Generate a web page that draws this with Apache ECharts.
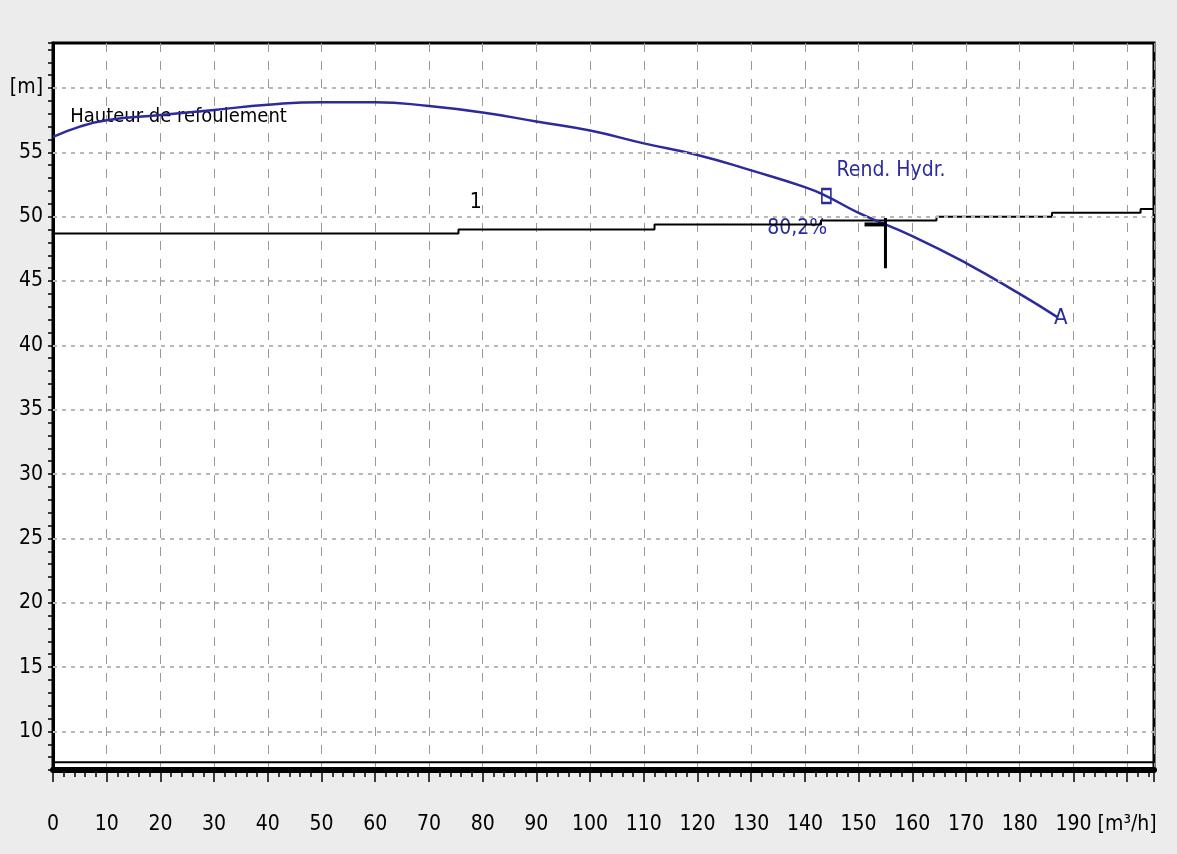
<!DOCTYPE html>
<html>
<head>
<meta charset="utf-8">
<script src="https://cdn.jsdelivr.net/npm/echarts@6/dist/echarts.min.js"></script>
<style>
  html, body { margin: 0; padding: 0; background: #ececec; }
  #chart { width: 1177px; height: 854px; }
</style>
</head>
<body>
<div id="chart"></div>
<script>
// courbe de la pompe (débit m3/h, hauteur m)
const debitPompe = [0, 5, 10, 20, 30, 40, 50, 60, 70, 80, 90, 100, 110, 120, 130, 140, 144, 150, 160, 170, 180, 187]
const hauteurPompe = [56.2, 57.0, 57.5, 57.9, 58.3, 58.7, 58.9, 58.9, 58.6, 58.1, 57.4, 56.7, 55.7, 54.8, 53.6, 52.3, 51.6, 50.3, 48.5, 46.4, 44.0, 42.2]

// courbe du réseau "1" (en escalier comme sur l'original)
const debitReseau = [0, 75.5, 112, 143, 164.5, 186, 202.5, 205]
const hauteurReseau = [48.7, 49.0, 49.4, 49.7, 50.0, 50.3, 50.6, 50.6]

// ligne basse le long de l'axe
const debitBas = [0, 205]
const hauteurBas = [7.6, 7.6]

// point de fonctionnement
const debitPoint = [155, 155]
const hauteurPoint = [49.9, 46.0]
const debitPalier = [151.1, 155.2]
const hauteurPalier = [49.4, 49.4]

// rendement au point carré
const rendPoint = [144, 51.6]

// textes
const notes = [
  [3.2, 57.75, 'Hauteur de refoulement', '#000000', 20],
  [77.6, 51.1, '1', '#000000', 21],
  [145.9, 53.6, 'Rend. Hydr.', '#2b2ba0', 21],
  [133.0, 49.1, '80,2%', '#2b2ba0', 21],
  [186.4, 42.1, 'A', '#2b2ba0', 22]
]

// graduations
const xMin = 0, xMax = 205, xStep = 10
const yMin = 7, yMax = 63.5
const yGrid = [10, 15, 20, 25, 30, 35, 40, 45, 50, 55, 60]

const FONT = "'Liberation Sans Narrow', 'DejaVu Sans Condensed', 'Arial Narrow', sans-serif"
const BLEU = '#2b2b9c'

const zip = (a, b) => a.map((v, i) => [v, b[i]])

const chart = echarts.init(document.getElementById('chart'))

const option = {
  backgroundColor: '#ececec',
  animation: false,
  grid: {
    left: 53, right: 23, top: 43, bottom: 84,
    show: true,
    backgroundColor: '#ffffff',
    borderColor: '#000000',
    borderWidth: 3
  },
  xAxis: {
    type: 'value',
    min: xMin, max: xMax, interval: xStep,
    axisLine: { lineStyle: { color: '#000', width: 6 } },
    axisTick: { length: 12, lineStyle: { color: '#000', width: 1.5 } },
    minorTick: { show: true, splitNumber: 5, length: 7, lineStyle: { color: '#000', width: 1.5 } },
    axisLabel: {
      margin: 44,
      fontFamily: FONT, fontSize: 21, color: '#000',
      formatter: v => (v % 10 !== 0 ? '' : (v === 200 ? '[m³/h]' : String(v)))
    },
    splitLine: { show: true, lineStyle: { color: '#999999', width: 1, type: [9, 9] } }
  },
  yAxis: {
    type: 'value',
    min: yMin, max: yMax, interval: 1,
    axisLine: { show: true, lineStyle: { color: '#000', width: 3 } },
    axisTick: { show: true, length: 5, lineStyle: { color: '#000', width: 1.5 } },
    axisLabel: {
      margin: 10,
      fontFamily: FONT, fontSize: 21, color: '#000',
      formatter: v => (v % 5 !== 0 ? '' : (v === 60 ? '[m]' : String(v)))
    },
    splitLine: { show: false }
  },
  series: [
    {
      // lignes horizontales pointillées
      type: 'line', data: [], silent: true,
      markLine: {
        silent: true, symbol: 'none', label: { show: false },
        lineStyle: { color: '#b8b8b8', width: 2, type: [4, 5] },
        data: yGrid.map(v => ({ yAxis: v }))
      }
    },
    {
      name: 'bas', type: 'line', data: zip(debitBas, hauteurBas),
      symbol: 'none', lineStyle: { color: '#000', width: 2 }, silent: true
    },
    {
      name: 'réseau 1', type: 'line', step: 'end', data: zip(debitReseau, hauteurReseau),
      symbol: 'none', lineStyle: { color: '#000', width: 2 }, silent: true
    },
    {
      name: 'Hauteur de refoulement', type: 'line', smooth: true,
      data: zip(debitPompe, hauteurPompe),
      symbol: 'none', lineStyle: { color: BLEU, width: 2.5 }, silent: true
    },
    {
      name: 'point', type: 'line', data: zip(debitPoint, hauteurPoint),
      symbol: 'none', lineStyle: { color: '#000', width: 3 }, silent: true
    },
    {
      name: 'palier', type: 'line', data: zip(debitPalier, hauteurPalier),
      symbol: 'none', lineStyle: { color: '#000', width: 4 }, silent: true
    },
    {
      name: 'rendement', type: 'scatter', data: [rendPoint],
      symbol: 'rect', symbolSize: [9, 14],
      itemStyle: { color: '#ffffff', borderColor: BLEU, borderWidth: 2, opacity: 1 }, silent: true
    },
    {
      name: 'textes', type: 'scatter', symbolSize: 0, silent: true,
      itemStyle: { opacity: 1 },
      data: notes.map(n => ({
        value: [n[0], n[1]],
        label: {
          show: true, position: 'right', distance: 0,
          formatter: n[2], color: n[3], opacity: 1,
          fontFamily: FONT, fontSize: n[4]
        }
      }))
    }
  ]
}

chart.setOption(option)
</script>
</body>
</html>
